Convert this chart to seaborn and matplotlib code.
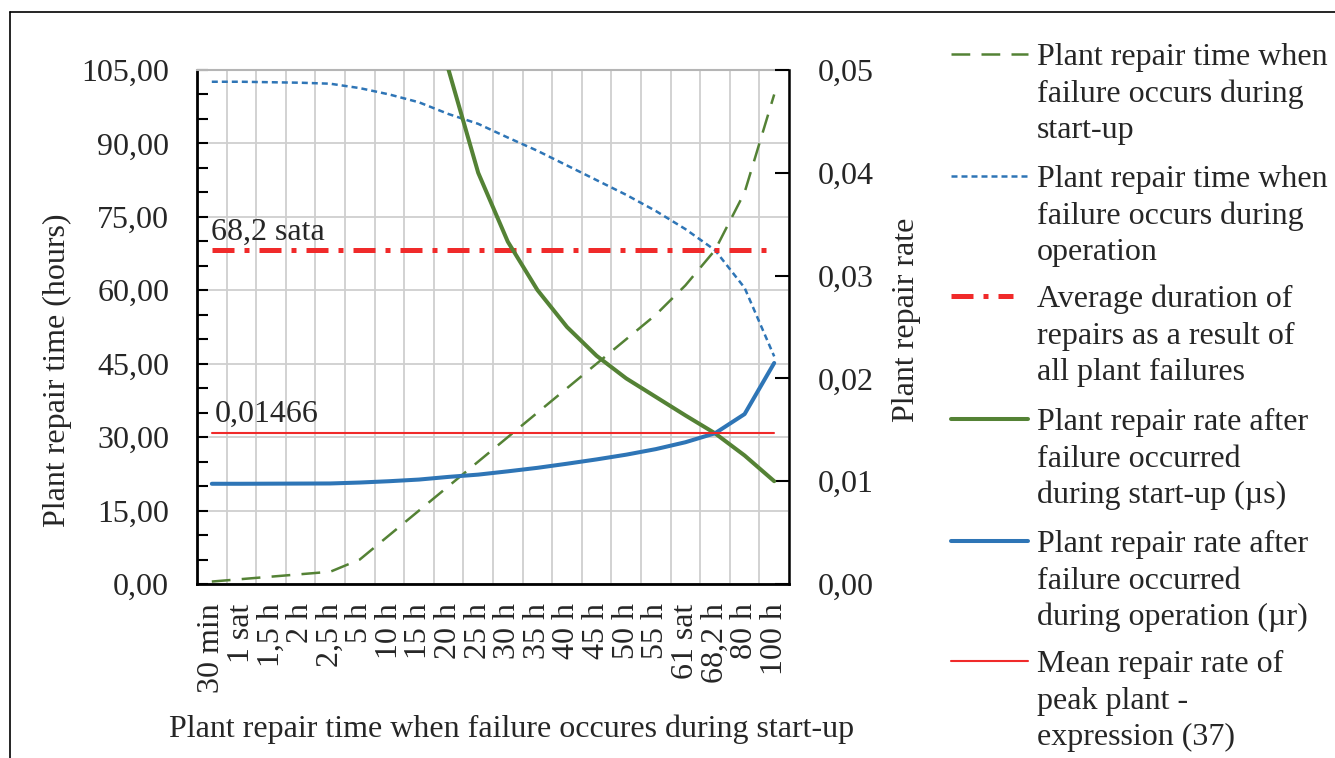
import numpy as np
import pandas as pd
import matplotlib
matplotlib.use("Agg")
import matplotlib.pyplot as plt
import matplotlib.ticker as ticker
from matplotlib.lines import Line2D
import seaborn as sns

# categories on x axis (repair time at start-up)
categories = ["30 min", "1 sat", "1,5 h", "2 h", "2,5 h", "5 h", "10 h", "15 h", "20 h", "25 h",
              "30 h", "35 h", "40 h", "45 h", "50 h", "55 h", "61 sat", "68,2 h", "80 h", "100 h"]

# left axis series (hours)
startup_time = [0.5, 1, 1.5, 2, 2.5, 5, 10, 15, 20, 25, 30, 35, 40, 45, 50, 55, 61, 68.2, 80, 100]
operation_time = [102.6, 102.6, 102.5, 102.4, 102.2, 101.3, 100.0, 98.4, 96.0, 94.0,
                  91.2, 88.5, 85.5, 82.5, 79.5, 76.2, 72.5, 68.2, 60.5, 46.5]
avg_duration = [68.2] * len(categories)

# right axis series (repair rate)
startup_rate = [2.0, 1.0, 0.667, 0.5, 0.4, 0.2, 0.1, 0.0667, 0.05, 0.04,
                0.0333, 0.0286, 0.025, 0.0222, 0.02, 0.0182, 0.0164, 0.01466, 0.0125, 0.01]
operation_rate = [0.00975, 0.00975, 0.00976, 0.00977, 0.00978, 0.00987, 0.0100, 0.01016, 0.01042, 0.01064,
                  0.01096, 0.0113, 0.0117, 0.01212, 0.01258, 0.01312, 0.01379, 0.01466, 0.01653, 0.0215]
mean_rate = [0.01466] * len(categories)

legend_texts = [
    ["Plant repair time when", "failure occurs during", "start-up"],
    ["Plant repair time when", "failure occurs during", "operation"],
    ["Average duration of", "repairs as a result of", "all plant failures"],
    ["Plant repair rate after", "failure occurred", "during start-up (µs)"],
    ["Plant repair rate after", "failure occurred", "during operation (µr)"],
    ["Mean repair rate of", "peak plant -", "expression (37)"],
]

df = pd.DataFrame({"pos": np.arange(len(categories)),
                   "startup_time": startup_time, "operation_time": operation_time,
                   "avg_duration": avg_duration, "startup_rate": startup_rate,
                   "operation_rate": operation_rate, "mean_rate": mean_rate})

sns.set_style("white")
plt.rcParams["font.family"] = ["Liberation Serif", "DejaVu Serif"]
plt.rcParams["font.size"] = 23

GREEN = "#548235"
BLUE = "#2e75b6"
RED = "#f02a2a"

W, H = 1335, 758
fig = plt.figure(figsize=(W / 100, H / 100), dpi=100)
ax = fig.add_axes([197 / W, (H - 584) / H, 592 / W, 514 / H])
ax2 = ax.twinx()

# left axis lines
sns.lineplot(data=df, x="pos", y="startup_time", ax=ax, color=GREEN, lw=1.8,
             linestyle=(0, (7.5, 4.5)))
sns.lineplot(data=df, x="pos", y="operation_time", ax=ax, color=BLUE, lw=1.8,
             linestyle=(0, (2.4, 1.6)))
sns.lineplot(data=df, x="pos", y="avg_duration", ax=ax, color=RED, lw=3.6,
             linestyle=(0, (4.4, 2, 1, 2)))

# right axis lines
sns.lineplot(data=df, x="pos", y="startup_rate", ax=ax2, color=GREEN, lw=2.9)
sns.lineplot(data=df, x="pos", y="operation_rate", ax=ax2, color=BLUE, lw=2.9)
sns.lineplot(data=df, x="pos", y="mean_rate", ax=ax2, color=RED, lw=1.5)

n = len(categories)
ax.set_xlim(-0.5, n - 0.5)
ax.set_ylim(0, 105)
ax2.set_ylim(0, 0.05)

# x ticks: marks/grid between categories, labels at centres
ax.set_xticks(np.arange(n + 1) - 0.5)
ax.set_xticklabels([])
ax.set_xticks(np.arange(n), minor=True)
ax.set_xticklabels(categories, minor=True, rotation=90, va="top", ha="center")
ax.tick_params(axis="x", which="major", direction="in", length=8, width=1.5, color="black")
ax.tick_params(axis="x", which="minor", length=0, pad=14)

ax.yaxis.set_major_locator(ticker.MultipleLocator(15))
ax.yaxis.set_minor_locator(ticker.MultipleLocator(5))
ax.yaxis.set_major_formatter(ticker.FuncFormatter(lambda v, p: f"{v:.2f}".replace(".", ",")))
ax.tick_params(axis="y", which="both", direction="in", length=8, width=1.5, color="black", pad=20)

ax2.yaxis.set_major_locator(ticker.MultipleLocator(0.01))
ax2.yaxis.set_major_formatter(ticker.FuncFormatter(lambda v, p: f"{v:.2f}".replace(".", ",")))
ax2.tick_params(axis="y", direction="in", length=10, width=1.5, color="black", pad=21)

ax.grid(True, which="major", color="#cfcfcf", lw=1.3)
ax.set_axisbelow(True)
ax2.grid(False)

for s in ["left", "bottom"]:
    ax.spines[s].set_color("black")
    ax.spines[s].set_linewidth(2)
ax.spines["top"].set_color("#b5b5b5")
ax.spines["top"].set_linewidth(1.5)
ax.spines["right"].set_visible(False)
for s in ["left", "bottom", "top"]:
    ax2.spines[s].set_visible(False)
ax2.spines["right"].set_color("black")
ax2.spines["right"].set_linewidth(1.8)

ax.set_xlabel("Plant repair time when failure occures during start-up")
ax.set_ylabel("Plant repair time (hours)")
ax2.set_ylabel("Plant repair rate")
ax.xaxis.set_label_coords((512 - 197) / 592, (584 - 714) / 514)
ax.yaxis.set_label_coords((72 - 197) / 592, (584 - 370) / 514)
ax2.yaxis.set_label_coords((892 - 197) / 592, (584 - 320) / 514)

# value annotations
ax.text(-0.03, 70.4, "68,2 sata", ha="left", va="baseline")
ax.text(0.1, 33.1, "0,01466", ha="left", va="baseline")

# manual legend: handle on first line of each entry
styles = [
    dict(color=GREEN, lw=1.8, linestyle=(0, (7.5, 4.5)), x1=1028),
    dict(color=BLUE, lw=1.8, linestyle=(0, (2.4, 1.6)), x1=1028),
    dict(color=RED, lw=3.6, linestyle=(0, (4.4, 2, 1, 2)), x1=1013),
    dict(color=GREEN, lw=2.9, linestyle="-", x1=1028),
    dict(color=BLUE, lw=2.9, linestyle="-", x1=1028),
    dict(color=RED, lw=1.5, linestyle="-", x1=1028),
]
baselines = [65, 187, 307, 430, 552, 672]
for st, b0, lines in zip(styles, baselines, legend_texts):
    hy = b0 - 11
    fig.add_artist(Line2D([951 / W, st["x1"] / W], [1 - hy / H, 1 - hy / H],
                          color=st["color"], lw=st["lw"], linestyle=st["linestyle"]))
    for i, t in enumerate(lines):
        fig.text(1037 / W, 1 - (b0 + i * 36.7) / H, t, ha="left", va="baseline")

# outer frame (top and left edges visible)
fig.add_artist(Line2D([10 / W, 1], [1 - 12 / H, 1 - 12 / H], color="black", lw=1.2))
fig.add_artist(Line2D([10 / W, 10 / W], [0, 1 - 12 / H], color="black", lw=1.2))

fig.savefig("out.png", dpi=100)
